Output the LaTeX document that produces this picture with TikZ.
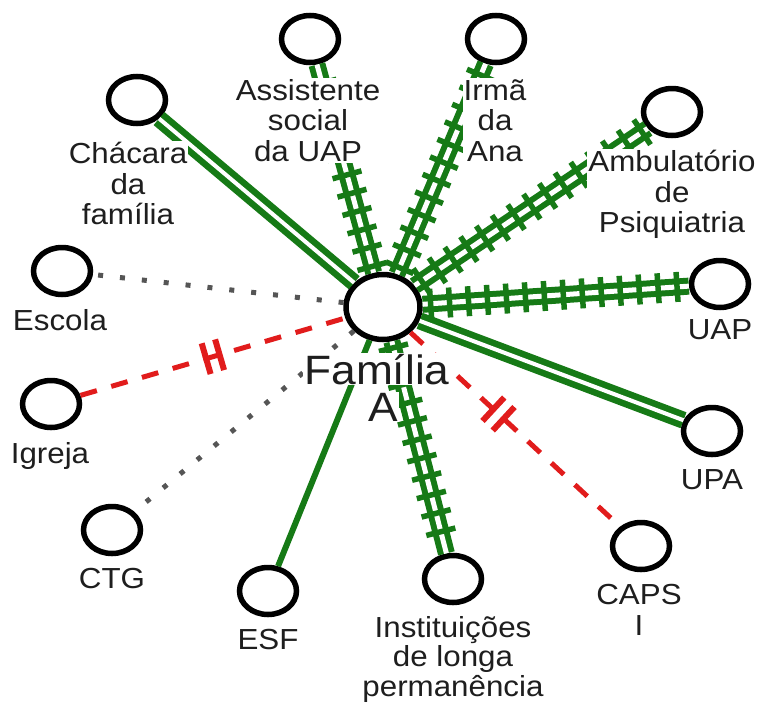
\documentclass[tikz,border=0pt]{standalone}
\usepackage{fontspec}
\setmainfont{Liberation Sans}[FakeStretch=1.08]
\usepackage{xcolor}
\usepackage{tikz}
\usetikzlibrary{positioning,shapes.geometric,decorations.markings}

\definecolor{verde}{RGB}{22,122,22}
\definecolor{vermelho}{RGB}{225,28,28}
\definecolor{cinza}{RGB}{85,85,85}
\definecolor{texto}{RGB}{30,30,30}

\begin{document}
\begin{tikzpicture}
			[x=1pt,y=-1pt,node distance=11pt,
			membro/.style={ellipse,draw=black,line width=5.5pt,fill=white,minimum width=57pt,minimum height=47pt,inner sep=0pt},
			nucleo/.style={membro,minimum width=74pt,minimum height=65pt},
			rotulo/.style={align=center,fill=white,inner sep=1pt,text=texto,font=\fontsize{29}{30.5}\selectfont},
			forte/.style={draw=verde,line width=6.5pt,double=white,double distance=4pt},
			tenso/.style={draw=verde,line width=6pt,double=white,double distance=5pt,
				postaction={decorate,decoration={markings,
				mark=between positions 0.03 and 0.98 step 19pt with {\draw[verde,line width=5.5pt] (0,-15pt) -- (0,15pt);}}}},
			fraco/.style={draw=verde,line width=6pt},
			tenue/.style={draw=cinza,line width=5pt,dash pattern=on 5pt off 17pt},
			rompido/.style={draw=vermelho,line width=5pt,dash pattern=on 17pt off 15pt,
				postaction={decorate,decoration={markings,
				mark=at position #1 with {\draw[vermelho,solid,line width=6pt] (-7pt,-16pt) -- (-7pt,16pt) (7pt,-16pt) -- (7pt,16pt);}}}},
			rompido/.default=0.5]
			\useasboundingbox (0,0) rectangle (762,707);
			% rede
			\node[nucleo] (fam) at (383,307) {};
			\node[membro] (chacara) at (137,100) {};
			\node[membro] (assist) at (310,39) {};
			\node[membro] (irma) at (496,39) {};
			\node[membro] (ambul) at (672,112) {};
			\node[membro] (escola) at (62,271) {};
			\node[membro] (uap) at (720,284) {};
			\node[membro] (igreja) at (51,404) {};
			\node[membro] (upa) at (712,431) {};
			\node[membro] (ctg) at (112,530) {};
			\node[membro] (esf) at (268,591) {};
			\node[membro] (inst) at (453,579) {};
			\node[membro] (caps) at (641,546) {};
			\path
			(fam) 	edge [forte] (chacara)
					edge [tenso] (assist)
					edge [tenso] (irma)
					edge [tenso] (ambul)
					edge [tenso] (uap)
					edge [forte] (upa)
					edge [tenso] (inst)
					edge [fraco] (esf)
					edge [tenue] (escola)
					edge [tenue] (ctg)
					edge [rompido=0.42] (caps)
			(igreja) edge [rompido] (fam)
			;
			% rotulos
			\node[rotulo,below=15pt of chacara,xshift=-9pt] (tchacara) {Chácara\\da\\família};
			\node[rotulo,below=13pt of assist,xshift=-2pt] (tassist) {Assistente\\social\\da UAP};
			\node[rotulo,below=13pt of irma,xshift=-1pt] (tirma) {Irmã\\da\\Ana};
			\node[rotulo,below=of ambul] (tambul) {Ambulatório\\de\\Psiquiatria};
			\node[rotulo,below=of escola,xshift=-2pt] (tescola) {Escola};
			\node[rotulo,below=8pt of uap] (tuap) {UAP};
			\node[rotulo,below=of igreja,xshift=-1pt] (tigreja) {Igreja};
			\node[rotulo,below=of upa] (tupa) {UPA};
			\node[rotulo,below=of ctg] (tctg) {CTG};
			\node[rotulo,below=of esf] (tesf) {ESF};
			\node[rotulo,below=10pt of inst,font=\fontsize{29}{29.5}\selectfont] (tinst) {Instituições\\de longa\\permanência};
			\node[rotulo,below=of caps,xshift=-2pt] (tcaps) {CAPS\\I};
			\node[rotulo,font=\fontsize{41}{41}\selectfont,anchor=base] (tfam) at (377,384) {Família};
			\node[rotulo,font=\fontsize{41}{41}\selectfont,anchor=base] (tfamA) at (383,421) {A};
		\end{tikzpicture}
\end{document}
